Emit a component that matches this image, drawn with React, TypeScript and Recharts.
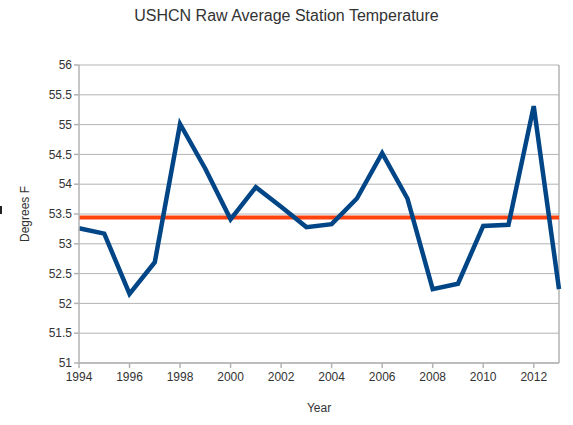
import React from 'react';
import { LineChart, Line, XAxis, YAxis, CartesianGrid, ReferenceLine, Label } from 'recharts';

const years = [1994, 1995, 1996, 1997, 1998, 1999, 2000, 2001, 2002, 2003, 2004, 2005, 2006, 2007, 2008, 2009, 2010, 2011, 2012, 2013];
const temps = [53.26, 53.17, 52.16, 52.69, 55.01, 54.26, 53.41, 53.95, 53.62, 53.28, 53.33, 53.76, 54.52, 53.76, 52.24, 52.33, 53.3, 53.32, 55.31, 52.24];
const average = 53.44;
const xTicks = [1994, 1996, 1998, 2000, 2002, 2004, 2006, 2008, 2010, 2012];
const yTicks = [51, 51.5, 52, 52.5, 53, 53.5, 54, 54.5, 55, 55.5, 56];

const data = years.map((year, i) => ({ year, temp: temps[i] }));

const font = '"Liberation Sans", Arial, sans-serif';
const textColor = '#333333';

const App: React.FC = () => {
  return (
    <div style={{ position: 'absolute', left: 0, top: 0, width: 573, height: 425, background: '#fff', fontFamily: font }}>
      <div style={{ position: 'absolute', left: 0, width: 573, top: 7, textAlign: 'center', fontSize: 16, color: '#333' }}>
        USHCN Raw Average Station Temperature
      </div>
      <div style={{ position: 'absolute', left: 0, top: 206, width: 2, height: 8, background: '#222' }} />
      <LineChart
        width={573}
        height={425}
        data={data}
        margin={{ top: 65, right: 14, left: 39, bottom: 32 }}
      >
        <CartesianGrid stroke="#b3b3b3" vertical={false} />
        <XAxis
          dataKey="year"
          type="number"
          domain={[1994, 2013]}
          ticks={xTicks}
          interval={0}
          stroke="#b3b3b3"
          strokeWidth={1.5}
          tickSize={5}
          height={30}
          tick={{ fontSize: 12, fill: textColor, fontFamily: font, dy: 2 }}
        >
          <Label value="Year" position="insideBottom" offset={-19} style={{ fontSize: 12, fill: textColor, fontFamily: font }} />
        </XAxis>
        <YAxis
          type="number"
          domain={[51, 56]}
          ticks={yTicks}
          interval={0}
          width={40}
          stroke="#b3b3b3"
          strokeWidth={1.5}
          tickSize={5}
          tick={{ fontSize: 12, fill: textColor, fontFamily: font }}
        >
          <Label value="Degrees F" angle={-90} position="insideLeft" offset={-14} style={{ fontSize: 12, fill: textColor, fontFamily: font, textAnchor: 'middle' }} />
        </YAxis>
        <ReferenceLine x={2013} stroke="#b3b3b3" strokeWidth={1.5} />
        <ReferenceLine y={average} stroke="#ff420e" strokeWidth={4} />
        <Line
          type="linear"
          dataKey="temp"
          stroke="#004586"
          strokeWidth={4.5}
          dot={false}
          strokeLinejoin="miter"
          isAnimationActive={false}
        />
      </LineChart>
    </div>
  );
};

export default App;
